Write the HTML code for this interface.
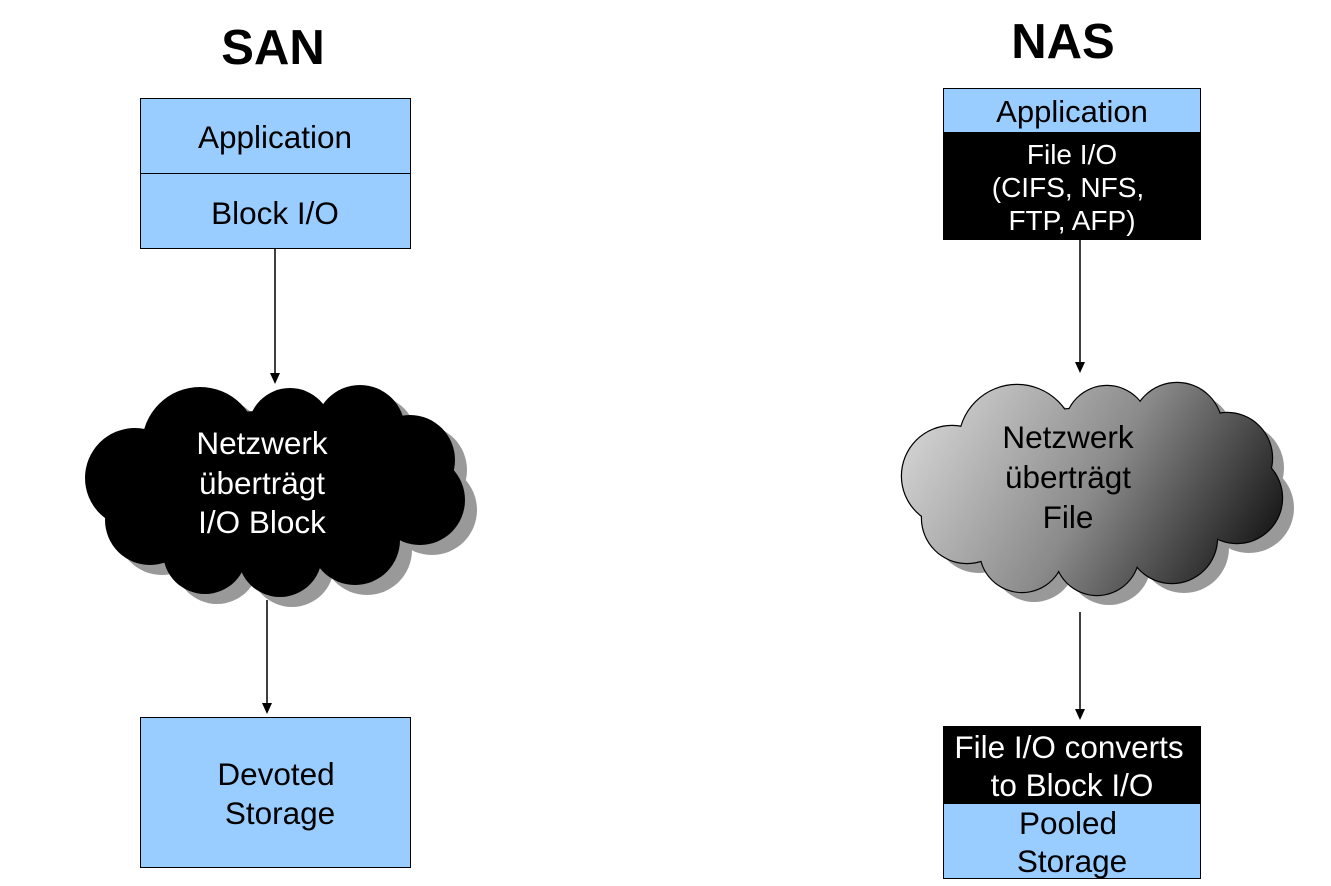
<!DOCTYPE html>
<html><head><meta charset="utf-8"><style>
body{margin:0;background:#fff;width:1331px;height:886px;overflow:hidden}
svg{display:block}
text{font-family:"Liberation Sans",Arial,sans-serif}
</style></head><body>
<svg width="1331" height="886" viewBox="0 0 1331 886">
<defs>
<linearGradient id="g" gradientUnits="userSpaceOnUse" x1="120" y1="400" x2="430" y2="590">
<stop offset="0" stop-color="#d0d0d0"/><stop offset="0.5" stop-color="#8a8a8a"/><stop offset="1" stop-color="#151515"/>
</linearGradient>
<g id="cl">
<circle cx="200" cy="445" r="58"/><circle cx="290" cy="430" r="42"/><circle cx="360" cy="430" r="45"/>
<circle cx="410" cy="460" r="45"/><circle cx="420" cy="500" r="45"/><circle cx="135" cy="478" r="50"/>
<circle cx="150" cy="520" r="45"/><circle cx="205" cy="552" r="42"/><circle cx="280" cy="555" r="42"/>
<circle cx="355" cy="540" r="45"/><ellipse cx="275" cy="490" rx="140" ry="80"/>
</g>
</defs>
<text x="273" y="64" font-size="49" font-weight="bold" text-anchor="middle">SAN</text>
<text x="1063" y="58" font-size="49" font-weight="bold" text-anchor="middle">NAS</text>

<rect x="140.5" y="98.5" width="270" height="75" fill="#99ccff" stroke="#000"/>
<rect x="140.5" y="173.5" width="270" height="75" fill="#99ccff" stroke="#000"/>
<text x="275" y="148" font-size="31.5" text-anchor="middle">Application</text>
<text x="275" y="224" font-size="31.5" text-anchor="middle">Block I/O</text>

<line x1="275" y1="248" x2="275" y2="375" stroke="#000" stroke-width="1.5"/>
<path d="M270,373 L280,373 L275,384 z" fill="#000"/>

<g transform="translate(12,10)" fill="#999"><use href="#cl"/></g>
<g fill="#000"><use href="#cl"/></g>
<text x="262" y="454" font-size="31.5" fill="#fff" text-anchor="middle">Netzwerk</text>
<text x="262" y="494" font-size="31.5" fill="#fff" text-anchor="middle">überträgt</text>
<text x="262" y="533" font-size="31.5" fill="#fff" text-anchor="middle">I/O Block</text>

<line x1="267" y1="600" x2="267" y2="705" stroke="#000" stroke-width="1.5"/>
<path d="M262,703 L272,703 L267,714 z" fill="#000"/>
<rect x="140.5" y="717.5" width="270" height="150" fill="#99ccff" stroke="#000"/>
<text x="276" y="785" font-size="31.5" text-anchor="middle">Devoted</text>
<text x="280" y="824" font-size="31.5" text-anchor="middle">Storage</text>

<rect x="943.5" y="88.5" width="257" height="44" fill="#99ccff" stroke="#000"/>
<rect x="943.5" y="132.5" width="257" height="107" fill="#000" stroke="#000"/>
<text x="1072" y="122" font-size="31" text-anchor="middle">Application</text>
<text x="1072" y="164" font-size="28" fill="#fff" text-anchor="middle">File I/O</text>
<text x="1068" y="197" font-size="28" fill="#fff" text-anchor="middle">(CIFS, NFS,</text>
<text x="1072" y="230" font-size="28" fill="#fff" text-anchor="middle">FTP, AFP)</text>

<line x1="1080" y1="240" x2="1080" y2="364" stroke="#000" stroke-width="1.5"/>
<path d="M1075,362 L1085,362 L1080,373 z" fill="#000"/>

<g transform="translate(817,-2)"><g transform="translate(12,10)" fill="#999"><use href="#cl"/></g>
<g fill="#000" stroke="#000" stroke-width="2.4"><use href="#cl"/></g>
<g fill="url(#g)"><use href="#cl"/></g></g>
<text x="1068" y="448" font-size="31.5" text-anchor="middle">Netzwerk</text>
<text x="1068" y="488" font-size="31.5" text-anchor="middle">überträgt</text>
<text x="1068" y="528" font-size="31.5" text-anchor="middle">File</text>

<line x1="1080" y1="612" x2="1080" y2="711" stroke="#000" stroke-width="1.5"/>
<path d="M1075,709 L1085,709 L1080,720 z" fill="#000"/>
<rect x="943.5" y="726.5" width="257" height="77" fill="#000" stroke="#000"/>
<rect x="943.5" y="803.5" width="257" height="75" fill="#99ccff" stroke="#000"/>
<text x="1069" y="758" font-size="31.5" fill="#fff" text-anchor="middle">File I/O converts</text>
<text x="1072" y="796" font-size="31.5" fill="#fff" text-anchor="middle">to Block I/O</text>
<text x="1068" y="834" font-size="31.5" text-anchor="middle">Pooled</text>
<text x="1072" y="872" font-size="31.5" text-anchor="middle">Storage</text>
</svg>
</body></html>
